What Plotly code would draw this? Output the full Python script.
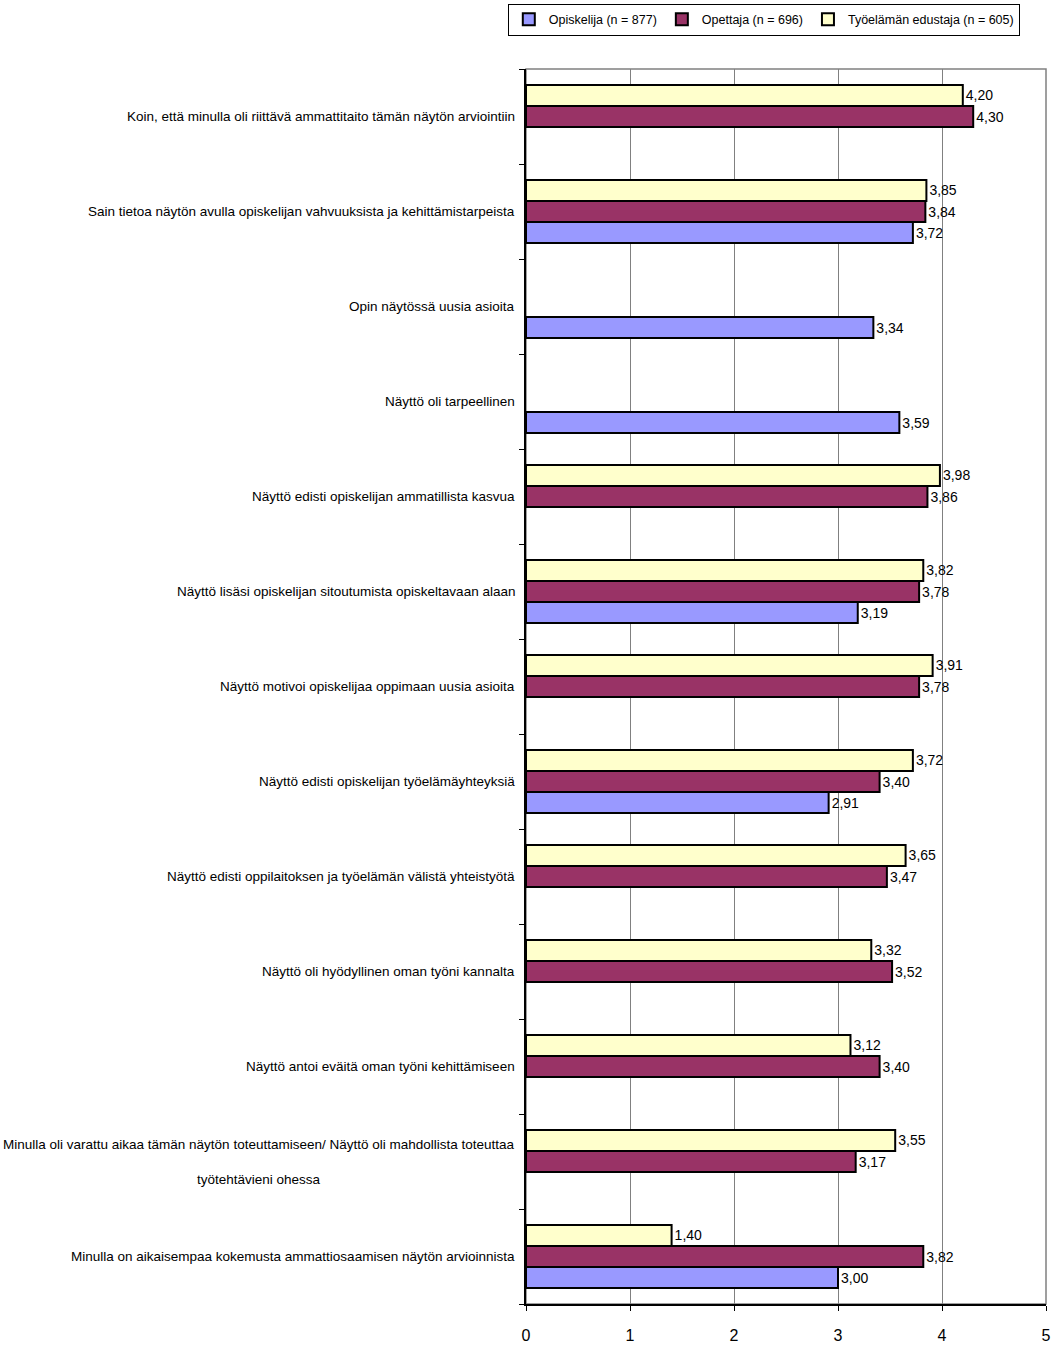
import plotly.graph_objects as go

# Survey statements, top to bottom
statements = [
    "Koin, että minulla oli riittävä ammattitaito tämän näytön arviointiin",
    "Sain tietoa näytön avulla opiskelijan vahvuuksista ja kehittämistarpeista",
    "Opin näytössä uusia asioita",
    "Näyttö oli tarpeellinen",
    "Näyttö edisti opiskelijan ammatillista kasvua",
    "Näyttö lisäsi opiskelijan sitoutumista opiskeltavaan alaan",
    "Näyttö motivoi opiskelijaa oppimaan uusia asioita",
    "Näyttö edisti opiskelijan työelämäyhteyksiä",
    "Näyttö edisti oppilaitoksen ja työelämän välistä yhteistyötä",
    "Näyttö oli hyödyllinen oman työni kannalta",
    "Näyttö antoi eväitä oman työni kehittämiseen",
    "Minulla oli varattu aikaa tämän näytön toteuttamiseen/ Näyttö oli mahdollista toteuttaa<br> <br>työtehtävieni ohessa",
    "Minulla on aikaisempaa kokemusta ammattiosaamisen näytön arvioinnista",
]

opiskelija = [None, 3.72, 3.34, 3.59, None, 3.19, None, 2.91, None, None, None, None, 3.00]
opettaja = [4.30, 3.84, None, None, 3.86, 3.78, 3.78, 3.40, 3.47, 3.52, 3.40, 3.17, 3.82]
tyoelama = [4.20, 3.85, None, None, 3.98, 3.82, 3.91, 3.72, 3.65, 3.32, 3.12, 3.55, 1.40]

series_names = ["Opiskelija (n = 877)", "Opettaja (n = 696)", "Työelämän edustaja (n = 605)"]
series_colors = ["#9999FF", "#993366", "#FFFFCC"]

x_ticks = [0, 1, 2, 3, 4, 5]

FONT = "Liberation Sans, Arial, sans-serif"


def fmt(v):
    return "" if v is None else f"{v:.2f}".replace(".", ",")


fig = go.Figure()
for name, vals, col in zip(series_names, [opiskelija, opettaja, tyoelama], series_colors):
    fig.add_trace(go.Bar(
        y=statements, x=vals, name=name, orientation="h",
        marker=dict(color=col, line=dict(color="black", width=2)),
        text=[fmt(v) for v in vals], textposition="outside",
        textfont=dict(family=FONT, size=14, color="black"),
        cliponaxis=False,
    ))

# Statement labels left of the axis (centred lines for the wrapped one)
for s in statements:
    fig.add_annotation(
        x=0, xref="paper", y=s, yref="y", xanchor="right", xshift=-9,
        text=s, showarrow=False, align="center",
        font=dict(family=FONT, size=13.5, color="black"),
    )

# Grey frame around the plotting area
fig.add_shape(type="rect", xref="paper", yref="paper", x0=0, x1=1, y0=0, y1=1,
              line=dict(color="#808080", width=1.5), layer="below")

fig.update_layout(
    width=1051, height=1348,
    margin=dict(l=526, r=5, t=68, b=44),
    barmode="group", bargap=0.335, bargroupgap=0,
    plot_bgcolor="white", paper_bgcolor="white",
    font=dict(family=FONT, size=14, color="black"),
    showlegend=True,
    legend=dict(
        orientation="h", x=-0.035, xanchor="left", y=1.052, yanchor="top",
        bordercolor="black", borderwidth=1, bgcolor="white",
        font=dict(family=FONT, size=12.5), itemwidth=30,
        tracegroupgap=0,
    ),
)

fig.update_xaxes(
    range=[0, 5], tickvals=x_ticks, ticktext=[str(t) for t in x_ticks],
    showgrid=True, gridcolor="#808080", gridwidth=1,
    showline=True, linecolor="black", linewidth=2,
    ticks="outside", ticklen=5, tickcolor="black", ticklabelstandoff=11,
    tickfont=dict(family=FONT, size=16), zeroline=False, automargin=False,
)
fig.update_yaxes(
    categoryorder="array", categoryarray=list(reversed(statements)),
    showticklabels=False, showgrid=False, automargin=False,
    showline=True, linecolor="black", linewidth=2,
    ticks="outside", ticklen=5, tickcolor="black", tickson="boundaries",
)

fig.write_html("out.html")
